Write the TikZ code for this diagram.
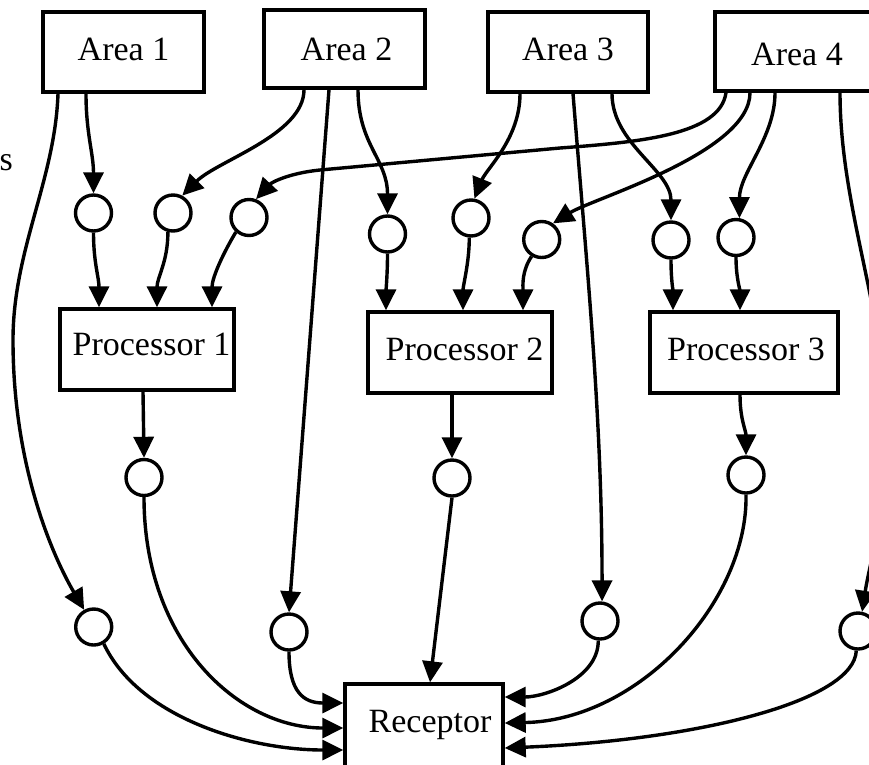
\documentclass[tikz,border=0pt]{standalone}
\usepackage{fontspec}
\setmainfont{Liberation Serif}
\usetikzlibrary{arrows.meta}

\begin{document}
\begin{tikzpicture}[x=1pt,y=-1pt,
  box/.style={draw, line width=3.4pt, inner sep=0pt, text height=22pt, text depth=4.2pt,
    font=\fontsize{34}{40}\selectfont},
  port/.style={draw, circle, line width=3.4pt, minimum size=36pt, inner sep=0pt},
  flow/.style={line width=3.4pt, -{Triangle[length=21pt,width=20pt]}},
]
\clip (0,0) rectangle (869,764);

% source areas
\node[box, minimum width=161pt, minimum height=80pt] (a1) at (123.5,52) {Area 1};
\node[box, minimum width=161pt, minimum height=78pt, text height=23.8pt, text depth=0pt] (a2) at (344.5,49) {\hspace*{4pt}Area 2};
\node[box, minimum width=160pt, minimum height=80pt] (a3) at (568,52) {Area 3};
\node[box, minimum width=164pt, minimum height=79pt, text height=28.8pt, text depth=0pt] (a4) at (797,51.5) {Area 4};

% processors
\node[box, minimum width=174pt, minimum height=81pt, text depth=10.2pt] (p1) at (147,349.5) {\hspace*{9pt}Processor 1};
\node[box, minimum width=184pt, minimum height=81pt, text depth=5.8pt] (p2) at (460,352.5) {\hspace*{9pt}Processor 2};
\node[box, minimum width=188pt, minimum height=81pt, text depth=5.8pt] (p3) at (744,352.5) {\hspace*{4pt}Processor 3};

% receptor
\node[box, minimum width=158pt, minimum height=84pt, text depth=8.6pt] (rec) at (424,726) {\hspace*{12pt}Receptor};

% side label, partly outside the frame
\node[anchor=base east, inner sep=0pt, font=\fontsize{34}{40}\selectfont] (side) at (13,170) {s};

% ports
\node[port] (c1a) at (93.5,213) {};
\node[port] (c1b) at (173,213) {};
\node[port] (c1c) at (249,217.5) {};
\node[port] (c2a) at (387.5,234) {};
\node[port] (c2b) at (471,218) {};
\node[port] (c2c) at (541.7,239.5) {};
\node[port] (c3a) at (671,240) {};
\node[port] (c3b) at (736,237.5) {};
\node[port] (o1) at (144,477.5) {};
\node[port] (o2) at (452,478) {};
\node[port] (o3) at (746,475) {};
\node[port] (d1) at (93.7,627) {};
\node[port] (d2) at (289,632) {};
\node[port] (d3) at (600,621) {};
\node[port] (d4) at (858,631) {};

% area 1
\draw[flow] ([xshift=-37.5pt]a1.south) .. controls +(0,40) and +(0,-40) .. (c1a.north);
\draw[flow] ([xshift=-65.5pt]a1.south) .. controls (55,180) and (13,250) .. (13,340)
  .. controls (13,470) and (55,560) .. (d1.119);
% area 2
\draw[flow] ([xshift=-40.5pt]a2.south) .. controls +(0,45) and +(35,-35) .. (c1b.62);
\draw[flow] ([xshift=-15.5pt]a2.south) -- (d2.north);
\draw[flow] ([xshift=13.5pt]a2.south) .. controls +(0,55) and +(0,-55) .. (c2a.north);
% area 3
\draw[flow] ([xshift=-48pt]a3.south) .. controls +(0,45) and +(12,-30) .. (c2b.80);
\draw[flow] ([xshift=5pt]a3.south) .. controls (588,280) and (602,420) .. (d3.84);
\draw[flow] ([xshift=44pt]a3.south) .. controls +(0,50) and +(0,-50) .. (c3a.north);
% area 4
\draw[flow] ([xshift=-71pt]a4.south) .. controls (720,135) and (640,142) .. (560,148)
  -- (320,170) .. controls (290,173) and (272,182) .. (c1c.69);
\draw[flow] ([xshift=-47pt]a4.south) .. controls +(0,60) and +(40,-25) .. (c2c.55);
\draw[flow] ([xshift=-22pt]a4.south) .. controls +(0,45) and +(0,-45) .. (c3b.80);
\draw[flow] ([xshift=43pt]a4.south) .. controls (840,200) and (880,300) .. (885,400)
  .. controls (890,500) and (870,560) .. (d4.78);

% ports into processors
\draw[flow] (c1a.south) .. controls +(0,30) and +(0,-30) .. ([xshift=-48pt]p1.north);
\draw[flow] (c1b.255) .. controls +(0,30) and +(0,-30) .. ([xshift=10pt]p1.north);
\draw[flow] (c1c.228) .. controls +(-12,20) and +(0,-30) .. ([xshift=65pt]p1.north);
\draw[flow] (c2a.south) .. controls +(0,20) and +(0,-20) .. ([xshift=-74pt]p2.north);
\draw[flow] (c2b.265) .. controls +(0,25) and +(0,-25) .. ([xshift=3pt]p2.north);
\draw[flow] (c2c.239) .. controls +(-10,15) and +(0,-25) .. ([xshift=63pt]p2.north);
\draw[flow] (c3a.south) .. controls +(0,20) and +(0,-20) .. ([xshift=-71pt]p3.north);
\draw[flow] (c3b.south) .. controls +(0,20) and +(0,-20) .. ([xshift=-4pt]p3.north);

% processor outputs
\draw[flow] ([xshift=-4pt]p1.south) -- (o1.north);
\draw[flow] ([xshift=-8pt]p2.south) -- (o2.north);
\draw[flow] ([xshift=-4pt]p3.south) .. controls +(0,25) and +(0,-25) .. (o3.north);

% into the receptor
\draw[flow] (o1.south) .. controls +(0,145) and +(-105,0) .. ([yshift=-2pt]rec.west);
\draw[flow] (d1.301) .. controls +(35,74) and +(-95,0) .. ([yshift=-24pt]rec.west);
\draw[flow] (d2.south) .. controls +(0,40) and +(-40,0) .. ([yshift=23pt]rec.west);
\draw[flow] (o2.south) -- ([xshift=6pt]rec.north);
\draw[flow] (d3.265) .. controls +(0,38) and +(40,0) .. ([yshift=29pt]rec.east);
\draw[flow] (o3.south) .. controls +(2,106) and +(135,-3) .. ([yshift=3pt]rec.east);
\draw[flow] (d4.265) .. controls +(-2,50) and +(195,-8) .. ([yshift=-22pt]rec.east);
\end{tikzpicture}
\end{document}
